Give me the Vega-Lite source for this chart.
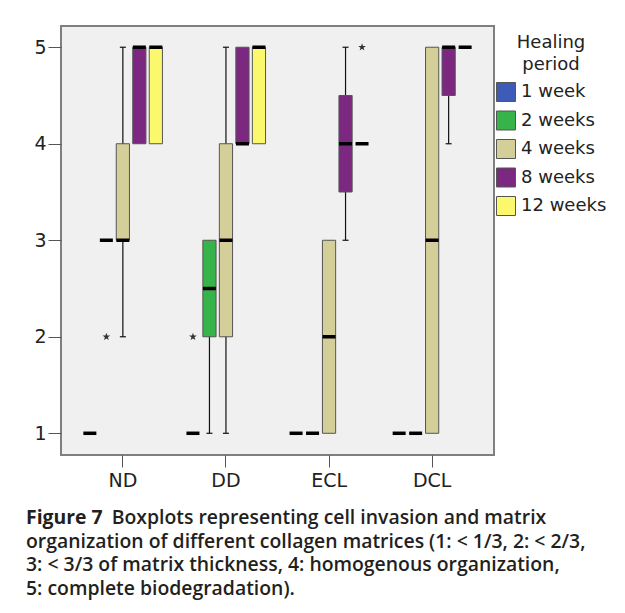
{
  "$schema": "https://vega.github.io/schema/vega-lite/v6.json",
  "width": 433,
  "height": 429,
  "autosize": {"type": "none"},
  "padding": {"left": 61, "top": 26, "right": 131, "bottom": 158},
  "background": "white",
  "title": {
    "text": "Figure 7",
    "subtitle": [
      "\u200b\u00a0\u00a0\u00a0\u00a0\u00a0\u00a0\u00a0\u00a0\u00a0\u00a0\u00a0\u00a0\u00a0\u00a0\u00a0\u00a0\u00a0Boxplots representing cell invasion and matrix",
      "organization of different collagen matrices (1: < 1/3, 2: < 2/3,",
      "3: < 3/3 of matrix thickness, 4: homogenous organization,",
      "5: complete biodegradation)."
    ],
    "orient": "bottom",
    "anchor": "start",
    "frame": "group",
    "dx": -35,
    "offset": 19,
    "font": "Open Sans",
    "fontSize": 19.4,
    "fontWeight": "bold",
    "color": "#231F20",
    "lineHeight": 23.5,
    "subtitleFont": "Open Sans",
    "subtitleFontSize": 19.4,
    "subtitleFontWeight": 600,
    "subtitleColor": "#231F20",
    "subtitleLineHeight": 23.5,
    "subtitlePadding": -19.4
  },
  "datasets": {
    "boxes": [
      {"matrix": "ND", "period": "1 week", "lo": 1, "q1": 1, "med": 1, "q3": 1, "hi": 1},
      {"matrix": "ND", "period": "2 weeks", "lo": 3, "q1": 3, "med": 3, "q3": 3, "hi": 3},
      {"matrix": "ND", "period": "4 weeks", "lo": 2, "q1": 3, "med": 3, "q3": 4, "hi": 5},
      {"matrix": "ND", "period": "8 weeks", "lo": 4, "q1": 4, "med": 5, "q3": 5, "hi": 5},
      {"matrix": "ND", "period": "12 weeks", "lo": 4, "q1": 4, "med": 5, "q3": 5, "hi": 5},
      {"matrix": "DD", "period": "1 week", "lo": 1, "q1": 1, "med": 1, "q3": 1, "hi": 1},
      {"matrix": "DD", "period": "2 weeks", "lo": 1, "q1": 2, "med": 2.5, "q3": 3, "hi": 3},
      {"matrix": "DD", "period": "4 weeks", "lo": 1, "q1": 2, "med": 3, "q3": 4, "hi": 5},
      {"matrix": "DD", "period": "8 weeks", "lo": 4, "q1": 4, "med": 4, "q3": 5, "hi": 5},
      {"matrix": "DD", "period": "12 weeks", "lo": 4, "q1": 4, "med": 5, "q3": 5, "hi": 5},
      {"matrix": "ECL", "period": "1 week", "lo": 1, "q1": 1, "med": 1, "q3": 1, "hi": 1},
      {"matrix": "ECL", "period": "2 weeks", "lo": 1, "q1": 1, "med": 1, "q3": 1, "hi": 1},
      {"matrix": "ECL", "period": "4 weeks", "lo": 1, "q1": 1, "med": 2, "q3": 3, "hi": 3},
      {"matrix": "ECL", "period": "8 weeks", "lo": 3, "q1": 3.5, "med": 4, "q3": 4.5, "hi": 5},
      {"matrix": "ECL", "period": "12 weeks", "lo": 4, "q1": 4, "med": 4, "q3": 4, "hi": 4},
      {"matrix": "DCL", "period": "1 week", "lo": 1, "q1": 1, "med": 1, "q3": 1, "hi": 1},
      {"matrix": "DCL", "period": "2 weeks", "lo": 1, "q1": 1, "med": 1, "q3": 1, "hi": 1},
      {"matrix": "DCL", "period": "4 weeks", "lo": 1, "q1": 1, "med": 3, "q3": 5, "hi": 5},
      {"matrix": "DCL", "period": "8 weeks", "lo": 4, "q1": 4.5, "med": 5, "q3": 5, "hi": 5},
      {"matrix": "DCL", "period": "12 weeks", "lo": 5, "q1": 5, "med": 5, "q3": 5, "hi": 5}
    ],
    "outliers": [
      {"matrix": "ND", "period": "2 weeks", "value": 2},
      {"matrix": "DD", "period": "1 week", "value": 2},
      {"matrix": "ECL", "period": "12 weeks", "value": 5}
    ]
  },
  "encoding": {
    "x": {
      "field": "matrix",
      "type": "nominal",
      "scale": {"domain": ["ND", "DD", "ECL", "DCL"], "paddingInner": 0.2, "paddingOuter": 0.2},
      "axis": {"title": null, "labelAngle": 0, "labelFontSize": 19, "tickSize": 12, "labelPadding": 4}
    },
    "xOffset": {
      "field": "period",
      "type": "nominal",
      "scale": {"domain": ["1 week", "2 weeks", "4 weeks", "8 weeks", "12 weeks"], "paddingInner": 0.2, "paddingOuter": 0.1}
    }
  },
  "layer": [
    {
      "data": {"name": "boxes"},
      "transform": [{"filter": "datum.lo < datum.hi"}],
      "mark": {"type": "rule", "color": "#111", "strokeWidth": 1.2, "opacity": 1},
      "encoding": {
        "y": {"field": "lo", "type": "quantitative", "scale": {"domain": [0.775, 5.22], "nice": false, "zero": false}, "axis": {"title": null, "values": [1, 2, 3, 4, 5], "labelFontSize": 19, "tickSize": 13, "labelPadding": 2, "format": "d"}},
        "y2": {"field": "hi"}
      }
    },
    {
      "data": {"name": "boxes"},
      "transform": [{"filter": "datum.lo < datum.q1"}],
      "mark": {"type": "tick", "color": "#111", "size": 6, "thickness": 1.2, "opacity": 1},
      "encoding": {"y": {"field": "lo", "type": "quantitative"}}
    },
    {
      "data": {"name": "boxes"},
      "transform": [{"filter": "datum.hi > datum.q3"}],
      "mark": {"type": "tick", "color": "#111", "size": 6, "thickness": 1.2, "opacity": 1},
      "encoding": {"y": {"field": "hi", "type": "quantitative"}}
    },
    {
      "data": {"name": "boxes"},
      "transform": [{"filter": "datum.q1 < datum.q3"}],
      "mark": {"type": "bar", "stroke": "#555", "strokeWidth": 1, "opacity": 1},
      "encoding": {
        "y": {"field": "q1", "type": "quantitative"},
        "y2": {"field": "q3"},
        "color": {
          "field": "period",
          "type": "nominal",
          "scale": {"domain": ["1 week", "2 weeks", "4 weeks", "8 weeks", "12 weeks"], "range": ["#3D5CB8", "#36B449", "#D4CF98", "#7D2880", "#FCF86E"]},
          "legend": {"title": ["Healing", "period"]}
        }
      }
    },
    {
      "data": {"name": "boxes"},
      "mark": {"type": "tick", "color": "#000", "size": 13, "thickness": 3.5, "opacity": 1},
      "encoding": {"y": {"field": "med", "type": "quantitative"}}
    },
    {
      "data": {"name": "outliers"},
      "mark": {"type": "point", "shape": "M0,-1L0.235,-0.324L0.951,-0.309L0.38,0.124L0.588,0.809L0,0.4L-0.588,0.809L-0.38,0.124L-0.951,-0.309L-0.235,-0.324Z", "filled": true, "color": "#333", "size": 65, "opacity": 1},
      "encoding": {"y": {"field": "value", "type": "quantitative"}}
    }
  ],
  "config": {
    "font": "DejaVu Sans",
    "view": {"fill": "#F0F0F0", "stroke": "#7F7F7F", "strokeWidth": 2},
    "axis": {"domain": false, "grid": false, "tickColor": "#555", "tickWidth": 1, "labelColor": "#222", "labelFont": "DejaVu Sans"},
    "legend": {
      "orient": "right",
      "offset": -6,
      "padding": 8,
      "titleFont": "DejaVu Sans",
      "titleFontSize": 18,
      "titleFontWeight": "normal",
      "titleColor": "#222",
      "titleAlign": "center",
      "titleAnchor": "middle",
      "titleLineHeight": 22,
      "titlePadding": 8,
      "labelFont": "DejaVu Sans",
      "labelFontSize": 18,
      "labelColor": "#222",
      "labelOffset": 5,
      "symbolType": "square",
      "symbolSize": 361,
      "symbolStrokeColor": "#555",
      "symbolStrokeWidth": 1,
      "symbolOpacity": 1,
      "rowPadding": 4.5
    }
  }
}
